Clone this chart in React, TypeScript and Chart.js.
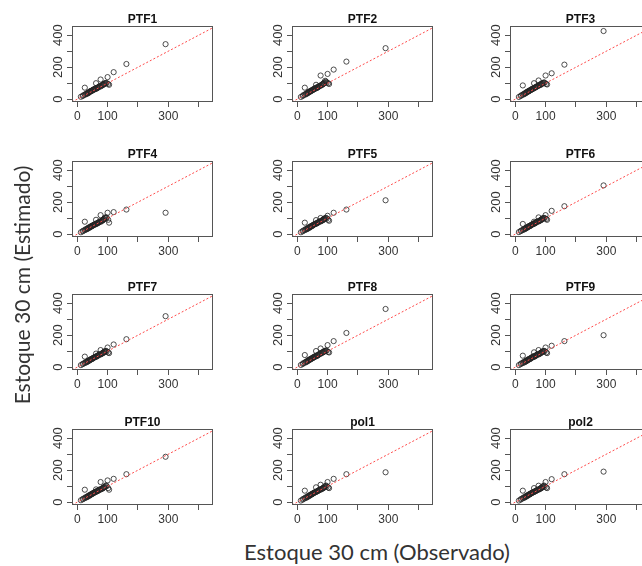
import React, { useEffect, useRef } from 'react';
import { Chart, registerables } from 'chart.js';

Chart.register(...registerables);

// Observed values (x), shared by every panel
const OBSERVED = [12, 18, 25, 25, 30, 33, 36, 40, 42, 45, 48, 50, 52, 55, 58, 62, 62, 65, 68, 70, 72, 77, 78, 80, 82, 85, 88, 90, 92, 95, 100, 102, 105, 120, 162, 291,
  20, 28, 35, 38, 44, 47, 53, 57, 60, 66, 74, 84, 87, 97];

// Estimated values (y) per model
const PTF1 = [15, 20, 28, 72, 32, 35, 38, 42, 48, 50, 52, 55, 58, 60, 62, 100, 65, 68, 72, 75, 78, 123, 80, 85, 88, 90, 95, 98, 100, 102, 138, 95, 90, 169, 220, 344,
  24, 33, 40, 44, 50, 53, 60, 64, 68, 72, 82, 90, 92, 100];
const PTF2 = [14, 20, 28, 72, 32, 36, 40, 44, 48, 50, 54, 56, 58, 62, 65, 90, 68, 70, 74, 78, 80, 148, 85, 88, 92, 95, 100, 105, 115, 110, 158, 100, 95, 185, 235, 319,
  25, 34, 42, 46, 52, 55, 62, 66, 70, 75, 84, 92, 98, 104];
const PTF3 = [14, 20, 28, 86, 32, 36, 40, 44, 48, 50, 54, 56, 58, 62, 65, 100, 68, 72, 75, 78, 80, 117, 85, 88, 92, 95, 98, 100, 102, 105, 148, 95, 92, 162, 216, 426,
  24, 33, 41, 45, 51, 54, 61, 65, 69, 74, 83, 90, 94, 102];
const PTF4 = [12, 18, 25, 78, 30, 33, 36, 40, 44, 46, 50, 52, 55, 58, 60, 90, 63, 66, 70, 72, 75, 119, 78, 82, 85, 88, 95, 100, 105, 102, 134, 90, 72, 138, 154, 134,
  22, 31, 38, 42, 48, 51, 57, 61, 65, 70, 80, 88, 92, 104];
const PTF5 = [12, 18, 25, 72, 30, 33, 36, 40, 44, 47, 50, 53, 56, 60, 63, 88, 65, 68, 72, 75, 78, 101, 80, 84, 86, 90, 95, 98, 100, 102, 115, 90, 84, 134, 154, 212,
  23, 32, 39, 43, 49, 52, 58, 62, 66, 71, 80, 88, 91, 98];
const PTF6 = [13, 19, 26, 64, 30, 34, 37, 41, 45, 48, 50, 53, 56, 60, 62, 78, 65, 68, 72, 75, 78, 105, 80, 84, 86, 90, 95, 98, 100, 102, 119, 95, 90, 146, 175, 305,
  23, 32, 39, 43, 49, 52, 58, 62, 66, 71, 80, 88, 91, 100];
const PTF7 = [13, 19, 26, 66, 30, 34, 37, 41, 45, 48, 50, 53, 56, 60, 62, 85, 65, 68, 72, 75, 78, 107, 80, 84, 86, 90, 95, 98, 100, 102, 123, 92, 88, 142, 175, 319,
  23, 32, 39, 43, 49, 52, 58, 62, 66, 71, 80, 88, 91, 98];
const PTF8 = [14, 20, 28, 76, 32, 36, 40, 44, 48, 50, 54, 56, 58, 62, 65, 101, 68, 70, 74, 78, 80, 117, 85, 88, 92, 95, 98, 100, 102, 105, 138, 95, 92, 163, 214, 364,
  25, 34, 42, 46, 52, 55, 62, 66, 70, 75, 84, 92, 95, 102];
const PTF9 = [13, 19, 26, 72, 30, 34, 37, 41, 45, 48, 50, 53, 56, 60, 62, 93, 65, 68, 72, 75, 78, 107, 80, 84, 86, 90, 95, 98, 100, 102, 123, 92, 88, 134, 163, 200,
  24, 33, 40, 44, 50, 53, 60, 64, 68, 72, 82, 90, 92, 100];
const PTF10 = [12, 18, 25, 78, 30, 33, 36, 40, 44, 47, 50, 53, 56, 58, 62, 80, 65, 68, 70, 74, 76, 126, 80, 82, 85, 88, 92, 95, 100, 105, 136, 88, 78, 146, 175, 284,
  22, 31, 38, 42, 48, 51, 57, 61, 65, 70, 80, 88, 92, 100];
const POL1 = [10, 16, 24, 72, 28, 32, 35, 39, 43, 46, 49, 52, 55, 58, 61, 93, 64, 67, 70, 73, 76, 109, 79, 82, 85, 88, 92, 96, 100, 104, 126, 92, 88, 146, 175, 187,
  21, 30, 37, 41, 47, 50, 56, 60, 64, 69, 78, 86, 90, 98];
const POL2 = [10, 16, 24, 72, 28, 32, 35, 39, 43, 46, 49, 52, 55, 58, 61, 88, 64, 67, 70, 73, 76, 103, 79, 82, 85, 88, 92, 96, 100, 104, 126, 92, 88, 144, 175, 191,
  21, 30, 37, 41, 47, 50, 56, 60, 64, 69, 78, 86, 90, 98];

const PANEL_TITLES = ['PTF1', 'PTF2', 'PTF3', 'PTF4', 'PTF5', 'PTF6', 'PTF7', 'PTF8', 'PTF9', 'PTF10', 'pol1', 'pol2'];
const PANEL_VALUES = [PTF1, PTF2, PTF3, PTF4, PTF5, PTF6, PTF7, PTF8, PTF9, PTF10, POL1, POL2];

const X_MIN = -17.2;
const X_MAX = 447.2;
const Y_MIN = -17.6;
const Y_MAX = 457.6;
const X_TICKS = [0, 100, 200, 300, 400];
const X_TICK_LABELS = ['0', '100', '', '300', ''];
const Y_TICKS = [0, 100, 200, 300, 400];
const Y_TICK_LABELS = ['0', '', '200', '', '400'];

const X_LABEL = 'Estoque 30 cm (Observado)';
const Y_LABEL = 'Estoque 30 cm (Estimado)';

// layout
const COL_LEFT = [72, 292, 510];
const ROW_TOP = [25, 160, 293, 428];
const BOX_W = 141;
const BOX_H = 77;
const PAD_L = 42;
const PAD_T = 24;
const PAD_B = 26;
const PAD_R = 10;

const FRAME = '#555';
const TICK_TEXT = '#333';
const FONT = "'Liberation Sans', Arial, sans-serif";

const framePlugin = {
  id: 'frame',
  afterDraw(chart: any) {
    const { ctx, chartArea: a } = chart;
    ctx.save();
    ctx.strokeStyle = FRAME;
    ctx.lineWidth = 1;
    ctx.strokeRect(Math.round(a.left) + 0.5, Math.round(a.top) + 0.5, Math.round(a.right - a.left) - 1, Math.round(a.bottom - a.top) - 1);
    ctx.restore();
  },
};

function Panel({ title, values, left, top }: { title: string; values: number[]; left: number; top: number }) {
  const ref = useRef<HTMLCanvasElement>(null);
  useEffect(() => {
    const canvas = ref.current!;
    const chart = new Chart(canvas, {
      type: 'scatter',
      data: {
        datasets: [
          {
            type: 'line',
            data: [{ x: X_MIN, y: X_MIN }, { x: X_MAX, y: X_MAX }],
            borderColor: '#ff4a4a',
            borderWidth: 1,
            borderDash: [2, 2],
            pointRadius: 0,
            fill: false,
          } as any,
          {
            data: OBSERVED.map((x, i) => ({ x, y: values[i] })),
            pointRadius: 2.6,
            pointHoverRadius: 2.6,
            borderColor: 'rgba(35,35,35,0.8)',
            borderWidth: 1,
            backgroundColor: 'rgba(0,0,0,0)',
          },
        ],
      },
      options: {
        responsive: false,
        animation: false,
        events: [],
        layout: { padding: { left: 0, right: PAD_R, top: 0, bottom: 0 } },
        plugins: {
          legend: { display: false },
          tooltip: { enabled: false },
          title: {
            display: true,
            text: title,
            fullSize: false,
            color: '#111',
            font: { family: FONT, size: 12, weight: 'bold', lineHeight: 1 },
            padding: { top: 13, bottom: 0 },
          },
        },
        scales: {
          x: {
            type: 'linear',
            min: X_MIN,
            max: X_MAX,
            afterBuildTicks: (s: any) => {
              s.ticks = X_TICKS.map((v) => ({ value: v }));
            },
            afterFit: (s: any) => {
              s.height = PAD_B;
            },
            ticks: {
              autoSkip: false,
              maxRotation: 0,
              minRotation: 0,
              padding: 2,
              color: TICK_TEXT,
              font: { family: FONT, size: 12 },
              callback: (_v: any, i: number) => X_TICK_LABELS[i],
            },
            grid: { display: true, drawOnChartArea: false, drawTicks: true, tickLength: 5, color: FRAME },
            border: { display: false },
          },
          y: {
            type: 'linear',
            min: Y_MIN,
            max: Y_MAX,
            afterBuildTicks: (s: any) => {
              s.ticks = Y_TICKS.map((v) => ({ value: v }));
            },
            afterFit: (s: any) => {
              s.width = PAD_L;
            },
            ticks: {
              autoSkip: false,
              minRotation: 90,
              maxRotation: 90,
              crossAlign: 'center',
              padding: -2,
              color: TICK_TEXT,
              font: { family: FONT, size: 13 },
              callback: (_v: any, i: number) => Y_TICK_LABELS[i],
            },
            grid: { display: true, drawOnChartArea: false, drawTicks: true, tickLength: 5, color: FRAME },
            border: { display: false },
          },
        },
      } as any,
      plugins: [framePlugin],
    });
    return () => chart.destroy();
  }, [title, values]);

  const w = PAD_L + BOX_W + PAD_R;
  const h = PAD_T + BOX_H + PAD_B;
  return (
    <canvas
      ref={ref}
      width={w}
      height={h}
      style={{ position: 'absolute', left, top, width: w, height: h }}
    />
  );
}

export default function App() {
  return (
    <div
      style={{
        position: 'fixed',
        left: 0,
        top: 0,
        width: 642,
        height: 566,
        overflow: 'hidden',
        background: '#fff',
      }}
    >
      {PANEL_TITLES.map((t, i) => {
        const col = i % 3;
        const row = Math.floor(i / 3);
        return (
          <Panel
            key={t}
            title={t}
            values={PANEL_VALUES[i]}
            left={COL_LEFT[col] - PAD_L}
            top={ROW_TOP[row] - PAD_T}
          />
        );
      })}
      <div
        style={{
          position: 'absolute',
          left: 177,
          top: 539,
          width: 400,
          height: 26,
          lineHeight: '26px',
          textAlign: 'center',
          fontFamily: "Lato, 'Open Sans', sans-serif",
          fontSize: 22,
          color: '#333',
          whiteSpace: 'nowrap',
        }}
      >
        {X_LABEL}
      </div>
      <div
        style={{
          position: 'absolute',
          left: 22 - 150,
          top: 285 - 13,
          width: 300,
          height: 26,
          lineHeight: '26px',
          textAlign: 'center',
          fontFamily: "Lato, 'Open Sans', sans-serif",
          fontSize: 21,
          color: '#333',
          whiteSpace: 'nowrap',
          transform: 'rotate(-90deg)',
        }}
      >
        {Y_LABEL}
      </div>
    </div>
  );
}
